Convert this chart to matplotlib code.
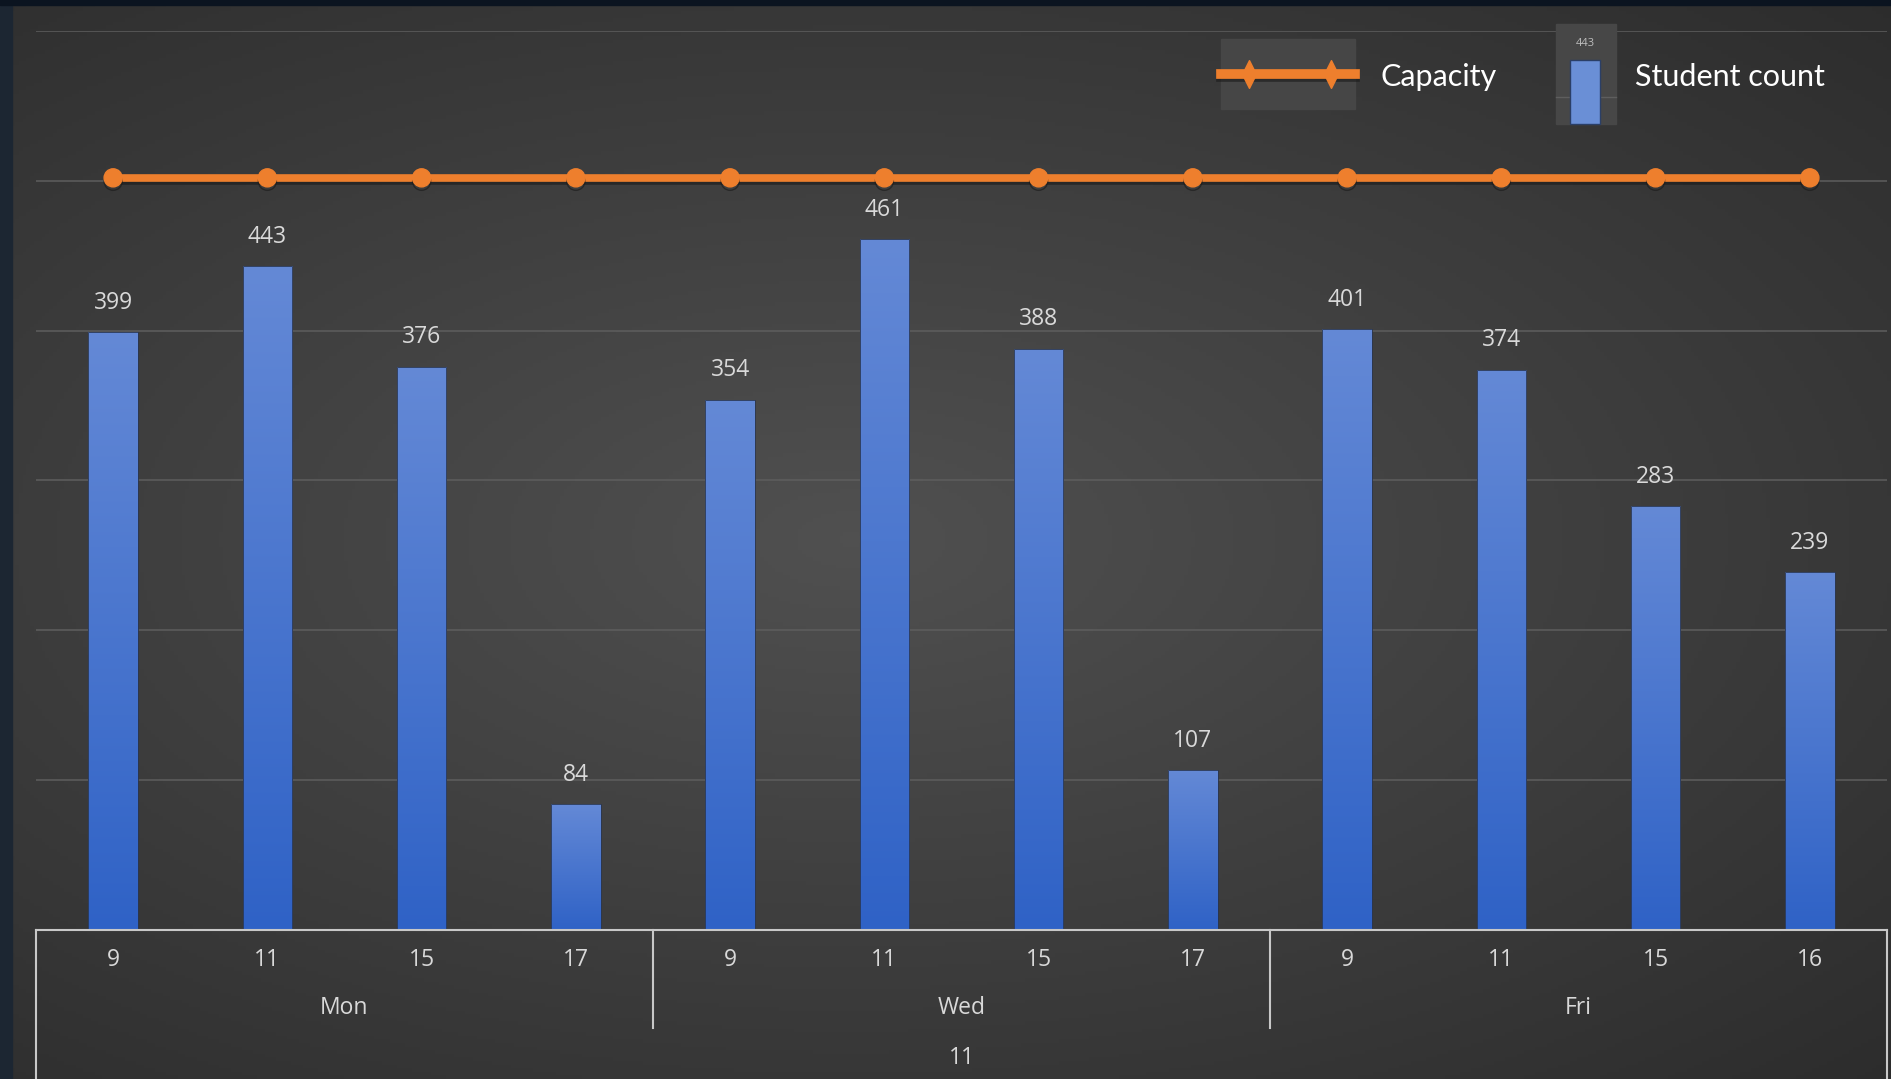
import numpy as np
import matplotlib
matplotlib.use('Agg')
import matplotlib.pyplot as plt
from matplotlib.patches import Rectangle
from matplotlib.lines import Line2D
from matplotlib.colors import LinearSegmentedColormap
from matplotlib.transforms import Affine2D
import matplotlib.patheffects as pe

W, H, DPI = 1891, 1079, 100

# ---------------- data ----------------
hours = ['9', '11', '15', '17', '9', '11', '15', '17', '9', '11', '15', '16']
days = ['Mon', 'Wed', 'Fri']
day_sizes = [4, 4, 4]
group_label = '11'
student_count = [399, 443, 376, 84, 354, 461, 388, 107, 401, 374, 283, 239]
capacity = [502] * 12
gridlines = [100, 200, 300, 400, 500, 600]
legend_labels = ['Capacity', 'Student count']

ORANGE = '#ee7f2d'
LABEL = '#d9d9d9'
FS = 16.5

fig = plt.figure(figsize=(W / DPI, H / DPI), dpi=DPI)
fig.patch.set_facecolor('#3a3a3a')
pix = Affine2D().scale(1 / W, -1 / H).translate(0, 1) + fig.transFigure

# ---------------- background ----------------
bg = fig.add_axes([0, 0, 1, 1], zorder=0)
bg.set_axis_off()
yy, xx = np.mgrid[0:1:300j, 0:1:500j]
d = np.sqrt(((xx - 0.45) / 1.0) ** 2 + ((yy - 0.5) / 0.9) ** 2)
val = np.clip(0.315 - 0.18 * d, 0.15, 0.32)
img = np.dstack([val, val, val])
bg.imshow(img, extent=[0, 1, 0, 1], aspect='auto', origin='upper')
bg.set_xlim(0, 1)
bg.set_ylim(0, 1)
fig.patches.append(Rectangle((0, 0), 12, H, transform=pix, color='#1c2632', zorder=1))
fig.patches.append(Rectangle((0, 0), W, 5, transform=pix, color='#0b1420', zorder=1))

# ---------------- main axes ----------------
x0, x1, ytop, ybase = 36, 1887, 31, 930
ax = fig.add_axes([x0 / W, (H - ybase) / H, (x1 - x0) / W, (ybase - ytop) / H], zorder=2)
ax.patch.set_alpha(0)
for s in ax.spines.values():
    s.set_visible(False)
ax.set_xticks([])
ax.set_yticks([])

x = np.arange(len(student_count))
for g in gridlines:
    ax.axhline(g, color='#5e5e5e', lw=1.1, zorder=1)

bw = 0.32
bars = ax.bar(x, student_count, width=bw, color='none', edgecolor='#2a3650', lw=0.6, zorder=3)
cmap = LinearSegmentedColormap.from_list('b', ['#2f62c6', '#6489d6'])
grad = np.linspace(0, 1, 256).reshape(-1, 1)
for b in bars:
    im = ax.imshow(grad, cmap=cmap, origin='lower', aspect='auto', zorder=2.5,
                   extent=[b.get_x(), b.get_x() + b.get_width(), 0, b.get_height()])
    im.set_clip_path(b)

for xi, v in zip(x, student_count):
    ax.annotate(str(v), (xi, v), xytext=(0, 21), textcoords='offset points',
                ha='center', va='center', color=LABEL, fontsize=FS, family='Open Sans', zorder=5)

ax.plot(x, capacity, color=ORANGE, lw=5.5, marker='o', ms=13, mfc=ORANGE, mec=ORANGE,
        zorder=4, solid_capstyle='round',
        path_effects=[pe.SimpleLineShadow(offset=(0, -2.5), shadow_color='#1a1a1a', alpha=0.6),
                      pe.Normal()])

ax.set_xlim(-0.5, len(x) - 0.5)
ax.set_ylim(0, 600)

# ---------------- multi-level category axis ----------------
tr = ax.get_xaxis_transform()
span = ybase - ytop
axc = '#c8c8c8'
ax.plot([-0.5, len(x) - 0.5], [0, 0], transform=tr, color=axc, lw=1.5, clip_on=False, zorder=6)
bottom = -(H - ybase) / span
ax.plot([-0.5, -0.5], [0, bottom], transform=tr, color=axc, lw=1.5, clip_on=False, zorder=6)
ax.plot([len(x) - 0.5] * 2, [0, bottom], transform=tr, color=axc, lw=1.5, clip_on=False, zorder=6)
pos = -0.5
for i, n in enumerate(day_sizes):
    if i > 0:
        ax.plot([pos, pos], [0, -98 / span], transform=tr, color=axc, lw=1.5, clip_on=False, zorder=6)
    ax.text(pos + n / 2, -78 / span, days[i], transform=tr, ha='center', va='center',
            color=LABEL, fontsize=FS, family='Open Sans')
    pos += n
for xi, h in zip(x, hours):
    ax.text(xi, -30 / span, h, transform=tr, ha='center', va='center',
            color=LABEL, fontsize=FS, family='Open Sans')
ax.text((len(x) - 1) / 2, -128 / span, group_label, transform=tr, ha='center', va='center',
        color=LABEL, fontsize=FS, family='Open Sans')

# ---------------- legend (drawn in figure pixels) ----------------
fig.patches.append(Rectangle((1221, 39), 134, 70, transform=pix, color='#464646', zorder=7))
fig.lines.append(Line2D([1221, 1355], [74, 74], transform=pix, color=ORANGE, lw=7, zorder=8,
                        path_effects=[pe.SimpleLineShadow(offset=(0, -2), shadow_color='#1a1a1a', alpha=0.6),
                                      pe.Normal()]))
leg_marker = [(-0.5, 0), (0, 1), (0.5, 0), (0, -1), (-0.5, 0)]
fig.lines.append(Line2D([1249, 1331], [74, 74], transform=pix, ls='none', marker=leg_marker, ms=20,
                        mfc=ORANGE, mec=ORANGE, zorder=9))
fig.text(1381 / W, 1 - 77 / H, legend_labels[0], ha='left', va='center', color='white',
         fontsize=22, family='Lato', zorder=9)

fig.patches.append(Rectangle((1556, 24), 60, 100, transform=pix, color='#474747', zorder=7))
fig.lines.append(Line2D([1556, 1616], [97, 97], transform=pix, color='#5e5e5e', lw=1, zorder=8))
fig.patches.append(Rectangle((1570, 60), 30, 64, transform=pix, facecolor='#6a8fd6',
                             edgecolor='#2b3f66', lw=1, zorder=8))
fig.text(1585 / W, 1 - 43 / H, str(student_count[1]), ha='center', va='center', color='#bdbdbd',
         fontsize=8, family='Open Sans', zorder=9)
fig.text(1635 / W, 1 - 77 / H, legend_labels[1], ha='left', va='center', color='white',
         fontsize=22, family='Lato', zorder=9)

fig.savefig('out.png', dpi=DPI, facecolor=fig.get_facecolor())
